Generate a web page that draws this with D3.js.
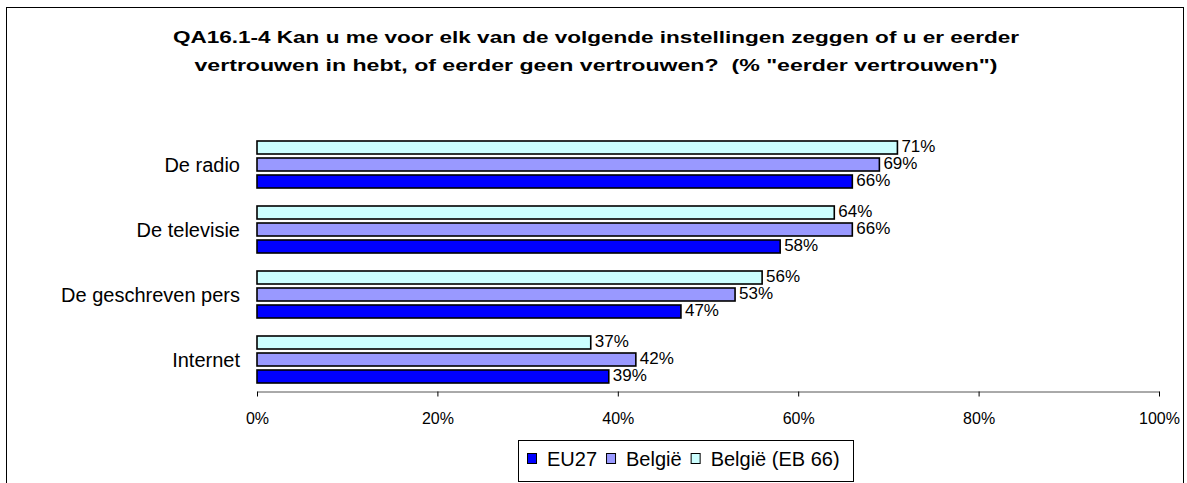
<!DOCTYPE html>
<html>
<head>
<meta charset="utf-8">
<script src="https://cdn.jsdelivr.net/npm/d3@7"></script>
<style>
  body { margin: 0; background: #fff; }
  svg { display: block; font-family: "Liberation Sans", Arial, sans-serif; }
</style>
</head>
<body>
<svg id="chart" width="1187" height="483"></svg>
<script>
// Chart data
var titleLines = ['QA16.1-4 Kan u me voor elk van de volgende instellingen zeggen of u er eerder',
                  'vertrouwen in hebt, of eerder geen vertrouwen?  (% "eerder vertrouwen")'];
var categories = ['De radio', 'De televisie', 'De geschreven pers', 'Internet'];
var seriesNames = ['EU27', 'België', 'België (EB 66)'];
var seriesColors = ['#0000ff', '#9999ff', '#ccffff'];
var eu27 = [66, 58, 47, 39];
var belgie = [69, 66, 53, 42];
var belgieEB66 = [71, 64, 56, 37];
var xTicks = [0, 20, 40, 60, 80, 100];

var seriesValues = [eu27, belgie, belgieEB66];

var svg = d3.select('#chart');

// Stretch text horizontally (the original title is drawn wide)
function stretch(sel, k) {
  sel.each(function(d, i) {
    var w = this.getComputedTextLength();
    d3.select(this).attr('textLength', w * k[i])
                   .attr('lengthAdjust', 'spacingAndGlyphs');
  });
}

// Outer frame
svg.append('rect')
   .attr('x', 6.5).attr('y', 7.5)
   .attr('width', 1177).attr('height', 520)
   .attr('fill', '#fff')
   .attr('stroke', '#000')
   .attr('stroke-width', 1);

// Title
var title = svg.append('g').selectAll('text')
   .data(titleLines)
   .enter().append('text')
   .attr('x', 596)
   .attr('y', function(d, i) { return 43 + i * 28; })
   .attr('text-anchor', 'middle')
   .attr('font-weight', 'bold')
   .attr('font-size', 17)
   .style('white-space', 'pre')
   .text(function(d) { return d; });
stretch(title, [1.325, 1.36]);

// Scales
var x = d3.scaleLinear().domain([0, 100]).range([257, 1159]);
var y0 = d3.scaleBand().domain(categories).range([132, 392]);
// top to bottom inside a group: EB 66, België, EU27
var y1 = d3.scaleBand().domain([2, 1, 0]).range([0, 47]).paddingInner(4 / 17);
var groupOffset = (y0.bandwidth() - 47) / 2;

// Bars
var rows = [];
categories.forEach(function(c, ci) {
  seriesValues.forEach(function(vals, si) {
    rows.push({ cat: c, s: si, v: vals[ci] });
  });
});

svg.append('g').selectAll('rect')
   .data(rows)
   .enter().append('rect')
   .attr('x', x(0))
   .attr('y', function(d) { return y0(d.cat) + groupOffset + y1(d.s); })
   .attr('width', function(d) { return x(d.v) - x(0); })
   .attr('height', y1.bandwidth())
   .attr('fill', function(d) { return seriesColors[d.s]; })
   .attr('stroke', '#000')
   .attr('stroke-width', 1.6);

// Value labels
svg.append('g').selectAll('text')
   .data(rows)
   .enter().append('text')
   .attr('x', function(d) { return x(d.v) + 4; })
   .attr('y', function(d) { return y0(d.cat) + groupOffset + y1(d.s) + y1.bandwidth() / 2 - 1; })
   .attr('dy', '0.35em')
   .attr('font-size', 17)
   .text(function(d) { return d.v + '%'; });

// Category labels
svg.append('g').selectAll('text')
   .data(categories)
   .enter().append('text')
   .attr('x', 240)
   .attr('y', function(d) { return y0(d) + y0.bandwidth() / 2; })
   .attr('dy', '0.35em')
   .attr('text-anchor', 'end')
   .attr('font-size', 20)
   .text(function(d) { return d; });

// X axis
var axis = svg.append('g')
   .attr('transform', 'translate(0,391.5)')
   .call(d3.axisBottom(x)
           .tickValues(xTicks)
           .tickSize(5)
           .tickSizeOuter(0)
           .tickPadding(16)
           .tickFormat(function(d) { return d + '%'; }));
axis.select('.domain').attr('stroke', '#555');
axis.selectAll('.tick line').attr('stroke', '#000');
axis.selectAll('text')
    .attr('font-size', 16)
    .attr('font-family', '"Liberation Sans", Arial, sans-serif')
    .attr('fill', '#000');

// Legend
var legend = svg.append('g');
legend.append('rect')
      .attr('x', 518.5).attr('y', 440.5)
      .attr('width', 335).attr('height', 41)
      .attr('fill', '#fff')
      .attr('stroke', '#000');

var lx = 527;
seriesNames.forEach(function(name, i) {
  legend.append('rect')
        .attr('x', lx + 0.5).attr('y', 453.5)
        .attr('width', 9).attr('height', 10)
        .attr('fill', seriesColors[i])
        .attr('stroke', '#000')
        .attr('stroke-width', 1);
  var t = legend.append('text')
        .attr('x', lx + 20).attr('y', 459)
        .attr('dy', '0.35em')
        .attr('font-size', 20)
        .text(name);
  lx += 20 + t.node().getComputedTextLength() + 9;
});
</script>
</body>
</html>
